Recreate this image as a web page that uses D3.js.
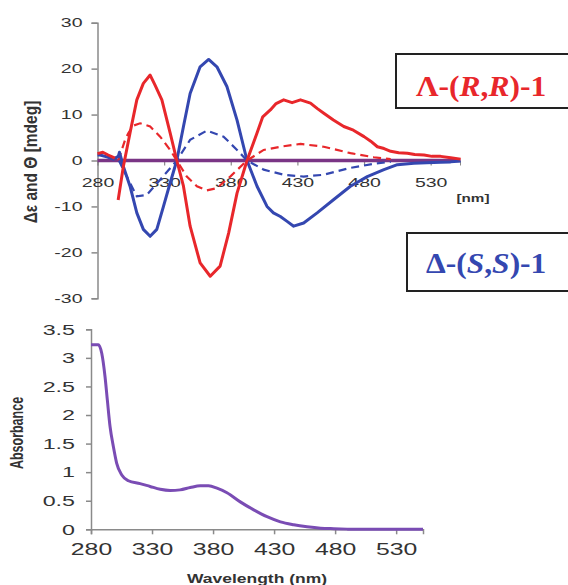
<!DOCTYPE html>
<html><head><meta charset="utf-8">
<script src="https://cdn.jsdelivr.net/npm/d3@7"></script>
<style>body{margin:0;background:#fff}svg{display:block}
.leg{font-family:'Liberation Serif','DejaVu Serif','Times New Roman',serif;font-weight:bold}</style>
</head><body>
<svg id="c" width="568" height="585"></svg>
<script>
// ---------- data ----------
const xTicks = [280, 330, 380, 430, 480, 530];
const cdTicks = [-30, -20, -10, 0, 10, 20, 30];
const absTicks = [0, 0.5, 1, 1.5, 2, 2.5, 3, 3.5];
const absTickLabels = ["0", "0.5", "1", "1.5", "2", "2.5", "3", "3.5"];

// Λ-(R,R)-1  solid CD (red); null breaks the line
const redSolidNm  = [280, 284, 288, 291, 293, 293.5, 295.5, 299.4, 304.4, 309.5, 314.4, 319.5, 323, 328.3, 334.5, 339.5, 344.5, 349.5, 357, 364.6, 372, 378.4, 384.7, 392.2, 399.7, 404, 409.7, 414, 419.7, 426, 432.3, 439.8, 445, 449.8, 457, 464.8, 472, 480, 485, 490, 495, 500, 506, 512.5, 518, 525, 531, 537.5, 545, 552.5];
const redSolidVal = [1.5, 1.8, 1.2, 0.8, 0.5, null, -8.6, -1.3, 6, 13.2, 16.8, 18.6, 16.5, 13.2, 6, 0, -5.6, -14.3, -22.3, -25.2, -23, -15.8, -7.1, 0, 6, 9.5, 11, 12.4, 13.2, 12.6, 13.2, 12.5, 11.3, 10.3, 8.8, 7.4, 6.6, 5.2, 4.2, 3, 2.6, 2, 1.7, 1.6, 1.3, 1.2, 0.9, 0.9, 0.6, 0.3];
// Δ-(S,S)-1  solid CD (blue)
const blueSolidNm  = [280, 281.9, 287, 291.9, 295.6, 296.5, 299.4, 304.4, 309.5, 314.4, 319.5, 324.5, 329.5, 334.5, 339.5, 344.5, 349.5, 357, 363.4, 369.6, 377.1, 384.7, 392.2, 399.7, 407.2, 412, 417.2, 422, 427.2, 434.7, 444.8, 457.3, 469.8, 482.4, 494.9, 505, 517.4, 527, 537.5, 545, 552.5];
const blueSolidVal = [1.2, 1.2, 0.8, 0.3, 0.9, 1.8, -1.3, -5.6, -11.4, -15, -16.5, -15, -10, -4.9, 0, 7.4, 14.6, 20.4, 22, 20.4, 16.1, 8.8, 0, -5.6, -10, -11.4, -12.2, -13.2, -14.3, -13.6, -11.4, -8.5, -5.6, -3.5, -2, -0.9, -0.6, -0.5, -0.4, -0.3, -0.1];
// Λ-(R,R)-1  dashed (red)
const redDashNm  = [295.6, 300.7, 303.2, 307, 312, 319.5, 327, 334.5, 339.5, 347, 354.6, 362, 369.6, 379.6, 392.2, 404.7, 417.2, 432.3, 449.8, 469.8, 487.4, 500];
const redDashVal = [0, 4.5, 6, 7.6, 8.1, 7.4, 5.2, 2.3, 0, -3.5, -5.6, -6.5, -6, -3.5, 0, 2.3, 3, 3.6, 3, 1.6, 0.7, 0.3];
// Δ-(S,S)-1  dashed (blue)
const blueDashNm  = [296, 302, 309.5, 317, 327, 339.5, 349.5, 362, 374.6, 384.7, 392.2, 404.7, 419.7, 434.7, 449.8, 469.8, 487.4, 500];
const blueDashVal = [0, -3.5, -7.8, -7.5, -4.2, 0, 4.5, 6.5, 5.2, 2.3, 0, -2, -3.1, -3.5, -3.1, -1.6, -0.7, -0.3];
// zero line
const zeroNm  = [280, 552];
const zeroVal = [0, 0];

// absorbance spectrum
const absNm  = [280, 286, 288.8, 291.5, 293.4, 295.6, 298.3, 301, 305.2, 310.6, 320.2, 328.4, 336.7, 344.9, 353, 361.3, 369.5, 376.3, 383.2, 391.4, 402.3, 413.3, 424.2, 435.2, 446.1, 457, 468, 479, 490, 500, 552];
const absVal = [3.23, 3.23, 3.08, 2.67, 2.26, 1.8, 1.45, 1.16, 0.95, 0.85, 0.8, 0.75, 0.7, 0.68, 0.69, 0.73, 0.76, 0.76, 0.72, 0.64, 0.48, 0.34, 0.22, 0.13, 0.08, 0.045, 0.02, 0.01, 0.003, 0, 0];

// ---------- drawing ----------
const svg = d3.select("#c");
const RED = "#e8272b", BLUE = "#3447b0", ZERO = "#7a3585", ABS = "#7a4cb4", AXIS = "#8a8a8a", TXT = "#333";
const SANS = "Liberation Sans, Arial, sans-serif";
const SX = 1.5; // horizontal stretch of the sans text in the source image

function stretchLeft(sel, s) {
  sel.each(function () {
    const t = d3.select(this); const x = +t.attr("x");
    t.attr("x", x / s).attr("transform", `scale(${s},1)`);
  });
}
function stretchCenter(sel, s) { sel.attr("transform", `scale(${s},1)`); }

// top chart
const xT = d3.scaleLinear().domain([280, 552]).range([97.5, 460]);
const yT = d3.scaleLinear().domain([-30, 30]).range([298.3, 22.7]);
const gTop = svg.append("g");

const yAxT = gTop.append("g").attr("transform", `translate(${xT(280)},0)`)
  .call(d3.axisLeft(yT).tickValues(cdTicks).tickSize(6).tickPadding(9).tickFormat(d => String(d)));
yAxT.select(".domain").attr("stroke", AXIS).attr("stroke-width", 1.5);
yAxT.selectAll(".tick line").attr("stroke", AXIS).attr("stroke-width", 1.5);
yAxT.selectAll("text").attr("font-family", SANS).attr("font-size", 13).attr("fill", TXT);
stretchLeft(yAxT.selectAll("text"), SX);

const xAxT = gTop.append("g").attr("transform", `translate(0,${yT(0)})`)
  .call(d3.axisBottom(xT).tickValues(xTicks).tickSize(5).tickPadding(12).tickFormat(d3.format("d")));
xAxT.select(".domain").attr("stroke", AXIS);
xAxT.selectAll(".tick line").attr("stroke", AXIS).attr("stroke-width", 1.2);
xAxT.selectAll("text").attr("font-family", SANS).attr("font-size", 13).attr("fill", TXT);
stretchCenter(xAxT.selectAll("text"), SX);

const mk = (nm, v) => nm.map((d, i) => [d, v[i]]);
const lineT = d3.line().defined(d => d[1] !== null).x(d => xT(d[0])).y(d => yT(d[1]));

gTop.append("path").datum(mk(zeroNm, zeroVal)).attr("d", lineT)
  .attr("fill", "none").attr("stroke", ZERO).attr("stroke-width", 3.5);
gTop.append("path").datum(mk(redDashNm, redDashVal)).attr("d", lineT)
  .attr("fill", "none").attr("stroke", RED).attr("stroke-width", 2.2).attr("stroke-dasharray", "8,5");
gTop.append("path").datum(mk(blueDashNm, blueDashVal)).attr("d", lineT)
  .attr("fill", "none").attr("stroke", BLUE).attr("stroke-width", 2.2).attr("stroke-dasharray", "8,5");
gTop.append("path").datum(mk(blueSolidNm, blueSolidVal)).attr("d", lineT)
  .attr("fill", "none").attr("stroke", BLUE).attr("stroke-width", 3).attr("stroke-linejoin", "round");
gTop.append("path").datum(mk(redSolidNm, redSolidVal)).attr("d", lineT)
  .attr("fill", "none").attr("stroke", RED).attr("stroke-width", 3).attr("stroke-linejoin", "round");

// labels
svg.append("text").attr("transform", "translate(37,162) rotate(-90) scale(1,1.15)")
  .attr("text-anchor", "middle").attr("font-family", SANS)
  .attr("font-weight", "bold").attr("font-size", 15.5).attr("fill", TXT)
  .text("Δε and  Θ [mdeg]");
svg.append("text").attr("x", 473 / 1.45).attr("y", 202).attr("transform", "scale(1.45,1)")
  .attr("text-anchor", "middle").attr("font-family", SANS).attr("font-weight", "bold")
  .attr("font-size", 10.5).attr("fill", TXT).text("[nm]");

// legend boxes
function box(x, y, w, h, color, parts) {
  svg.append("rect").attr("x", x).attr("y", y).attr("width", w).attr("height", h)
    .attr("fill", "#fff").attr("stroke", "#222").attr("stroke-width", 2);
  const s = 1.05;
  const t = svg.append("text").attr("class", "leg").attr("x", parts.x / s).attr("y", parts.y)
    .attr("transform", `scale(${s},1)`)
    .attr("font-size", 30).attr("fill", color);
  parts.segs.forEach(sg => t.append("tspan").attr("font-style", sg[1] ? "italic" : "normal").text(sg[0]));
}
box(396, 54, 180, 54, RED, {x: 416, y: 96, segs: [["Λ-(", 0], ["R", 1], [",", 0], ["R", 1], [")-1", 0]]});
box(407, 233, 170, 58, BLUE, {x: 426, y: 273, segs: [["Δ-(", 0], ["S", 1], [",", 0], ["S", 1], [")-1", 0]]});

// bottom chart
const xB = d3.scaleLinear().domain([280, 552]).range([91, 423]);
const yB = d3.scaleLinear().domain([0, 3.5]).range([529.3, 329.3]);

const yAxB = svg.append("g").attr("transform", `translate(${xB(280)},0)`)
  .call(d3.axisLeft(yB).tickValues(absTicks).tickSize(5).tickPadding(11).tickFormat((d, i) => absTickLabels[i]));
yAxB.select(".domain").attr("stroke", AXIS).attr("stroke-width", 1.5);
yAxB.selectAll(".tick line").attr("stroke", AXIS).attr("stroke-width", 1.5);
yAxB.selectAll("text").attr("font-family", SANS).attr("font-size", 15).attr("fill", TXT);
stretchLeft(yAxB.selectAll("text"), 1.55);

const xAxB = svg.append("g").attr("transform", `translate(0,${yB(0)})`)
  .call(d3.axisBottom(xB).tickValues(xTicks).tickSize(5).tickPadding(9).tickFormat(d3.format("d")));
xAxB.select(".domain").attr("stroke", AXIS).attr("stroke-width", 1.5);
xAxB.selectAll(".tick line").attr("stroke", AXIS).attr("stroke-width", 1.5);
xAxB.selectAll("text").attr("font-family", SANS).attr("font-size", 16).attr("fill", TXT);
stretchCenter(xAxB.selectAll("text"), 1.55);

const lineB = d3.line().curve(d3.curveMonotoneX).x(d => xB(d[0])).y(d => yB(d[1]));
svg.append("path").datum(mk(absNm, absVal)).attr("d", lineB)
  .attr("fill", "none").attr("stroke", ABS).attr("stroke-width", 3);

svg.append("text").attr("transform", "translate(23,433) rotate(-90) scale(1,1.4)")
  .attr("text-anchor", "middle").attr("font-family", SANS)
  .attr("font-weight", "bold").attr("font-size", 12.5).attr("fill", TXT).text("Absorbance");
svg.append("text").attr("x", 257 / 1.4).attr("y", 583).attr("transform", "scale(1.4,1)")
  .attr("text-anchor", "middle").attr("font-family", SANS).attr("font-weight", "bold")
  .attr("font-size", 12.5).attr("fill", TXT).text("Wavelength (nm)");
</script>
</body></html>
